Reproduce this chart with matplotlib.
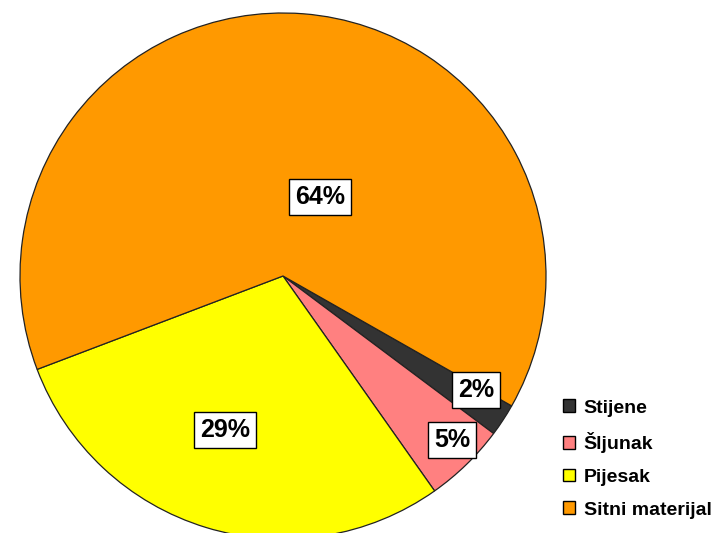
import matplotlib
matplotlib.use('Agg')
import matplotlib.pyplot as plt
from matplotlib.patches import Patch

plt.rcParams['font.family'] = ['Liberation Sans', 'DejaVu Sans']

# Podaci
kategorije = ['Stijene', 'Šljunak', 'Pijesak', 'Sitni materijal']
udjeli = [2, 5, 29, 64]
boje = ['#333333', '#FF8080', '#FFFF00', '#FF9900']

# polozaj postotaka (u jedinicama radijusa)
pozicije_oznaka = [(0.734, -0.433), (0.643, -0.624), (-0.22, -0.585), (0.14, 0.30)]

fig = plt.figure(figsize=(7.26, 5.33), dpi=100)
ax = fig.add_axes([20 / 726, -6 / 533, 526 / 726, 526 / 533])

wedges, texts, autotexts = ax.pie(udjeli, colors=boje, startangle=-29.6, counterclock=False,
                                  autopct='%1.0f%%', radius=1,
                                  wedgeprops=dict(edgecolor='#222222', linewidth=0.9))
for w in wedges:
    w.set_clip_on(False)

for t, (x, y) in zip(autotexts, pozicije_oznaka):
    t.set_position((x, y))
    t.set_fontsize(18)
    t.set_fontweight('bold')
    t.set_color('black')
    t.set_bbox(dict(boxstyle='square,pad=0.25', facecolor='white', edgecolor='black', linewidth=1))

ax.set_xlim(-1, 1)
ax.set_ylim(-1, 1)

handles = [Patch(facecolor=b, edgecolor='black', linewidth=1) for b in boje]
fig.legend(handles, kategorije, loc='center left', bbox_to_anchor=(563 / 726, 1 - 459 / 533),
           frameon=False, borderpad=0, borderaxespad=0, handlelength=0.62, handleheight=0.62,
           handletextpad=0.45, labelspacing=0.8,
           prop=dict(size=14, weight='bold'))

plt.savefig('out.png', dpi=100)
